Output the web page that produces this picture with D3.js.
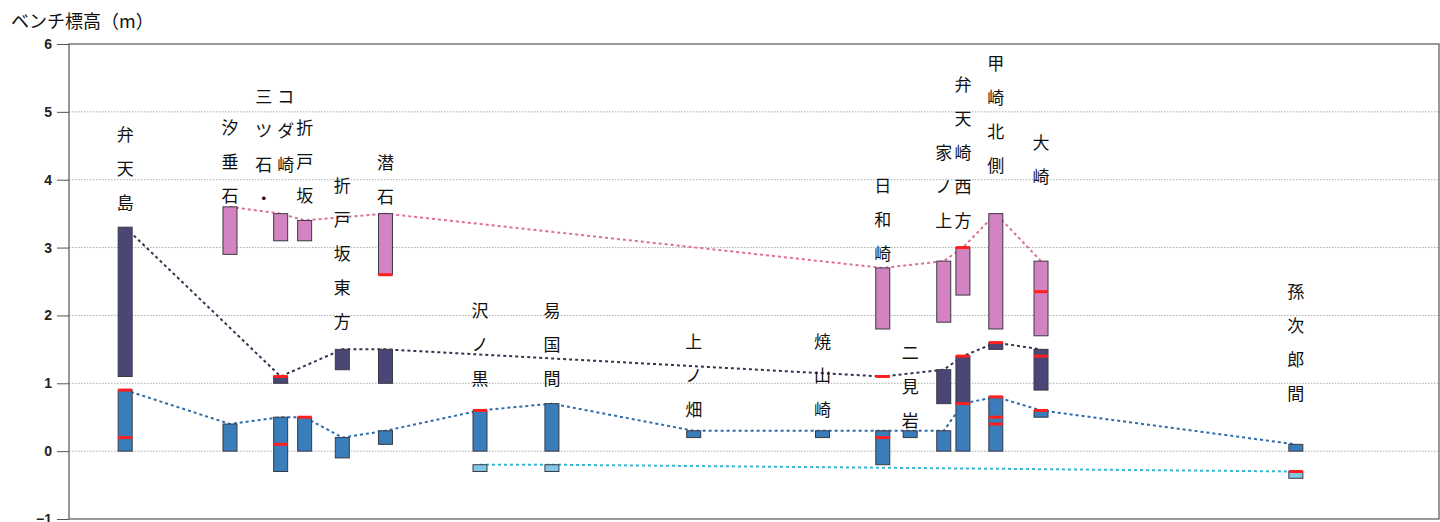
<!DOCTYPE html>
<html lang="ja">
<head>
<meta charset="utf-8">
<script src="https://cdn.jsdelivr.net/npm/d3@7"></script>
<style>
  html, body { margin: 0; padding: 0; background: #fff; }
  svg { display: block; }
</style>
</head>
<body>
<svg id="chart" width="1440" height="522"></svg>
<script>
// Bench elevations along the coast (m)
const sites = ["弁天島", "汐垂石", "三ツ石・コダ崎", "折戸坂", "折戸坂東方", "潜石", "沢ノ黒", "易国間",
  "上ノ畑", "焼山崎", "日和崎", "二見岩", "家ノ上", "弁天崎西方", "甲崎北側", "大崎", "孫次郎間"];
// position along the coastline (relative distance)
const distance = [4.1, 11.75, 15.45, 17.2, 19.95, 23.1, 30.0, 35.25, 45.6, 55.0, 59.4, 61.4, 63.85, 65.25, 67.65, 70.95, 89.55];

// bench ranges [low, high] per level, null where absent
const pinkBench = [null, [2.9, 3.6], [3.1, 3.5], [3.1, 3.4], null, [2.6, 3.5], null, null,
  null, null, [1.8, 2.7], null, [1.9, 2.8], [2.3, 3.0], [1.8, 3.5], [1.7, 2.8], null];
const navyBench = [[1.1, 3.3], null, [1.0, 1.1], null, [1.2, 1.5], [1.0, 1.5], null, null,
  null, null, null, null, [0.7, 1.2], [0.7, 1.4], [1.5, 1.6], [0.9, 1.5], null];
const blueBench = [[0.0, 0.9], [0.0, 0.4], [-0.3, 0.5], [0.0, 0.5], [-0.1, 0.2], [0.1, 0.3], [0.0, 0.6], [0.0, 0.7],
  [0.2, 0.3], [0.2, 0.3], [-0.2, 0.3], [0.2, 0.3], [0.0, 0.3], [0.0, 0.7], [0.0, 0.8], [0.5, 0.6], [0.0, 0.1]];
const lightBench = [null, null, null, null, null, null, [-0.3, -0.2], [-0.3, -0.2],
  null, null, null, null, null, null, null, null, [-0.4, -0.3]];

// levels traced by the connecting lines (null = not on that line)
const pinkLine = [null, 3.6, 3.5, 3.4, null, 3.5, null, null, null, null, 2.7, null, 2.8, 3.0, 3.5, 2.8, null];
const navyLine = [3.3, null, 1.1, null, 1.5, 1.5, null, null, null, null, 1.1, null, 1.2, 1.4, 1.6, 1.5, null];
const blueLine = [0.9, 0.4, 0.5, 0.5, 0.2, 0.3, 0.6, 0.7, 0.3, 0.3, 0.3, 0.3, 0.3, 0.7, 0.8, 0.6, 0.1];
const lightLine = [null, null, null, null, null, null, -0.2, -0.2, null, null, null, null, null, null, null, null, -0.3];

// marked elevations (red ticks)
const marks = [[0.9, 0.2], [], [1.1, 0.1], [0.5], [], [2.6], [0.6], [],
  [], [], [1.1, 0.2], [], [], [3.0, 1.4, 0.7], [1.6, 0.8, 0.5, 0.4], [2.35, 1.4, 0.6], [-0.3]];

// vertical label columns and the elevation where each label begins
const labelColumns = [["弁天島"], ["汐垂石"], ["三ツ石・", "コダ崎"], ["折戸坂"], ["折戸坂東方"], ["潜石"], ["沢ノ黒"], ["易国間"],
  ["上ノ畑"], ["焼山崎"], ["日和崎"], ["二見岩"], ["家ノ上"], ["弁天崎西方"], ["甲崎北側"], ["大崎"], ["孫次郎間"]];
const labelTop = [4.66, 4.76, 5.22, 4.76, 3.91, 4.25, 2.07, 2.07, 1.61, 1.61, 3.91, 1.45, 4.4, 5.4, 5.7, 4.54, 2.34];

const yTicks = [6, 5, 4, 3, 2, 1, 0, -1];

// layout
const plotLeft = 69, plotRight = 1439, plotTop = 44, plotBottom = 519;
const barW = 14;
const colors = {
  pink: "#d383c2", navy: "#4a4777", blue: "#3a7dbb", light: "#7ec8e6",
  pinkLine: "#df6f98", navyLine: "#34344f", blueLine: "#2f6cab", lightLine: "#36b6d9",
  mark: "#ff1f1f", edge: "#3a3a46"
};

const svg = d3.select("#chart");
const x = d3.scaleLinear().domain([0, 100]).range([plotLeft, plotRight]);
const y = d3.scaleLinear().domain([-1, 6]).range([plotBottom, plotTop]);

// title
svg.append("text")
  .attr("x", 11).attr("y", 28)
  .attr("font-family", "'Noto Sans CJK JP', sans-serif")
  .attr("font-size", 18)
  .attr("fill", "#111")
  .text("ベンチ標高（m）");

// grid lines
svg.append("g").selectAll("line")
  .data(yTicks.filter(t => t > -1 && t < 6))
  .join("line")
  .attr("x1", plotLeft).attr("x2", plotRight)
  .attr("y1", d => y(d)).attr("y2", d => y(d))
  .attr("stroke", "#aaaaaa").attr("stroke-width", 1)
  .attr("stroke-dasharray", "1.5,1.5");

// y axis
const yAxis = d3.axisLeft(y)
  .tickValues(yTicks)
  .tickSize(12)
  .tickPadding(5)
  .tickFormat(d => d < 0 ? "\u2212" + Math.abs(d) : d);
const ax = svg.append("g").attr("transform", `translate(${plotLeft},0)`).call(yAxis);
ax.select(".domain").remove();
ax.selectAll(".tick line").attr("stroke", "#555");
ax.selectAll(".tick text")
  .attr("font-family", "'Liberation Sans', Arial, sans-serif")
  .attr("font-size", 14).attr("font-weight", 600).attr("fill", "#222");

// connecting dotted lines
function drawLine(values, color) {
  const pts = values.map((v, i) => v == null ? null : [distance[i], v]).filter(p => p);
  svg.append("path")
    .datum(pts)
    .attr("fill", "none")
    .attr("stroke", color)
    .attr("stroke-width", 2)
    .attr("stroke-dasharray", "3,3")
    .attr("d", d3.line().x(d => x(d[0])).y(d => y(d[1])));
}
drawLine(pinkLine, colors.pinkLine);
drawLine(navyLine, colors.navyLine);
drawLine(blueLine, colors.blueLine);
drawLine(lightLine, colors.lightLine);

// floating bars for each bench level
function drawBars(ranges, color) {
  svg.append("g").selectAll("rect")
    .data(ranges.map((r, i) => r ? { i, lo: r[0], hi: r[1] } : null).filter(d => d))
    .join("rect")
    .attr("x", d => x(distance[d.i]) - barW / 2)
    .attr("width", barW)
    .attr("y", d => y(d.hi))
    .attr("height", d => y(d.lo) - y(d.hi))
    .attr("fill", color)
    .attr("stroke", colors.edge)
    .attr("stroke-width", 1);
}
drawBars(pinkBench, colors.pink);
drawBars(navyBench, colors.navy);
drawBars(blueBench, colors.blue);
drawBars(lightBench, colors.light);

// red ticks at marked elevations
svg.append("g").selectAll("rect")
  .data(marks.flatMap((m, i) => m.map(v => ({ i, v }))))
  .join("rect")
  .attr("x", d => x(distance[d.i]) - barW / 2)
  .attr("width", barW)
  .attr("y", d => y(d.v) - 1.5)
  .attr("height", 3)
  .attr("fill", colors.mark);

// vertical site labels
const charStep = 34;
const labels = svg.append("g")
  .attr("font-family", "'Noto Sans CJK JP', sans-serif")
  .attr("font-size", 17)
  .attr("fill", "#111")
  .attr("text-anchor", "middle");
labelColumns.forEach((cols, i) => {
  const offsets = cols.length === 2 ? [-17, 5] : [0];
  cols.forEach((col, c) => {
    Array.from(col).forEach((ch, k) => {
      labels.append("text")
        .attr("x", x(distance[i]) + offsets[c])
        .attr("y", y(labelTop[i]) + k * charStep)
        .attr("dy", "0.36em")
        .text(ch);
    });
  });
});

// plot frame
svg.append("rect")
  .attr("x", plotLeft).attr("y", plotTop)
  .attr("width", plotRight - plotLeft).attr("height", plotBottom - plotTop)
  .attr("fill", "none")
  .attr("stroke", "#555").attr("stroke-width", 1.2);
</script>
</body>
</html>
